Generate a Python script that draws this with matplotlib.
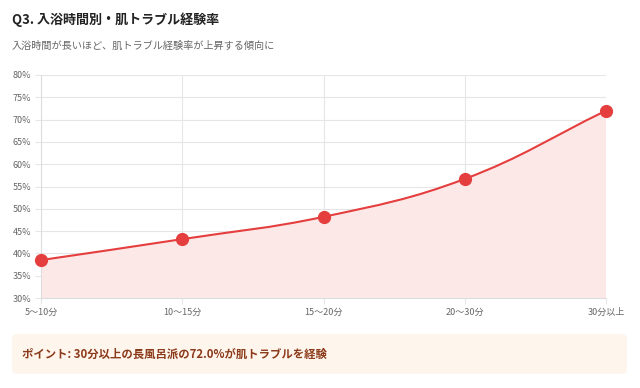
import matplotlib
matplotlib.use("Agg")
import matplotlib.pyplot as plt
import numpy as np
from matplotlib.path import Path
from matplotlib.patches import PathPatch, FancyBboxPatch

plt.rcParams['font.family'] = ['Noto Sans CJK JP', 'DejaVu Sans']

categories = ["5〜10分", "10〜15分", "15〜20分", "20〜30分", "30分以上"]
values = [38.5, 43.2, 48.2, 56.7, 72.0]
yticks = [30, 35, 40, 45, 50, 55, 60, 65, 70, 75, 80]

W, H = 640, 388
fig = plt.figure(figsize=(W/100, H/100), dpi=100)
ax = fig.add_axes([41/W, 1-298/H, (606-41)/W, (298-75)/H])

x = np.arange(len(categories))
ax.set_xlim(0, len(categories)-1)
ax.set_ylim(30, 80)

# Chart.js-like spline (tension 0.4) computed in pixel space
axw, axh = 606-41, 298-75
px = x / (len(categories)-1) * axw
py = (np.array(values) - 30) / 50 * axh
pts = np.column_stack([px, py])
t = 0.4
cps = []
for i in range(len(pts)):
    prev = pts[max(i-1, 0)]
    cur = pts[i]
    nxt = pts[min(i+1, len(pts)-1)]
    d01 = np.hypot(*(cur-prev)); d12 = np.hypot(*(nxt-cur))
    s01 = d01/(d01+d12) if d01+d12 else 0
    s12 = d12/(d01+d12) if d01+d12 else 0
    fa, fb = t*s01, t*s12
    cp_prev = cur - fa*(nxt-prev)
    cp_next = cur + fb*(nxt-prev)
    cps.append((cp_prev, cp_next))

def to_data(p):
    return (p[0]/axw*(len(categories)-1), p[1]/axh*50+30)

verts = [to_data(pts[0])]
codes = [Path.MOVETO]
for i in range(len(pts)-1):
    verts += [to_data(cps[i][1]), to_data(cps[i+1][0]), to_data(pts[i+1])]
    codes += [Path.CURVE4]*3
line_path = Path(verts, codes)
fill_verts = verts + [(x[-1], 30), (x[0], 30), verts[0]]
fill_codes = codes + [Path.LINETO, Path.LINETO, Path.CLOSEPOLY]
ax.add_patch(PathPatch(Path(fill_verts, fill_codes), facecolor='#fde8e8', edgecolor='none', zorder=1))
ax.add_patch(PathPatch(line_path, facecolor='none', edgecolor='#e53e3e', lw=1.5, zorder=3, clip_on=False))
ax.plot(x, values, 'o', color='#e53e3e', markersize=8.5, zorder=4, clip_on=False)

ax.set_xticks(x)
ax.set_xticklabels(categories, fontsize=6.5, color='#666666')
ax.set_yticks(yticks)
ax.set_yticklabels([f"{v}%" for v in yticks], fontsize=6.5, color='#666666')
ax.grid(True, color='#e6e6e6', lw=0.8)
ax.set_axisbelow(True)
for s in ['top', 'right']:
    ax.spines[s].set_visible(False)
ax.spines['left'].set_color('#dddddd')
ax.spines['bottom'].set_color('#dddddd')
ax.tick_params(axis='both', length=4, color='#e6e6e6', pad=3)

fig.text(12/W, 1-20/H, "Q3. 入浴時間別・肌トラブル経験率", fontsize=9.4, fontweight='bold', color='#222222', va='center', ha='left')
fig.text(12/W, 1-46/H, "入浴時間が長いほど、肌トラブル経験率が上昇する傾向に", fontsize=7.3, color='#666666', va='center', ha='left')

box = FancyBboxPatch((12/W, 1-374/H), (627-12)/W, 40/H, boxstyle="round,pad=0,rounding_size=0.01",
                     transform=fig.transFigure, facecolor='#fef5ec', edgecolor='none')
fig.patches.append(box)
fig.text(22/W, 1-354/H, "ポイント: 30分以上の長風呂派の72.0%が肌トラブルを経験", fontsize=8.2, fontweight='bold', color='#8b3a1a', va='center', ha='left')

fig.savefig("out.png", dpi=100, facecolor='white')
